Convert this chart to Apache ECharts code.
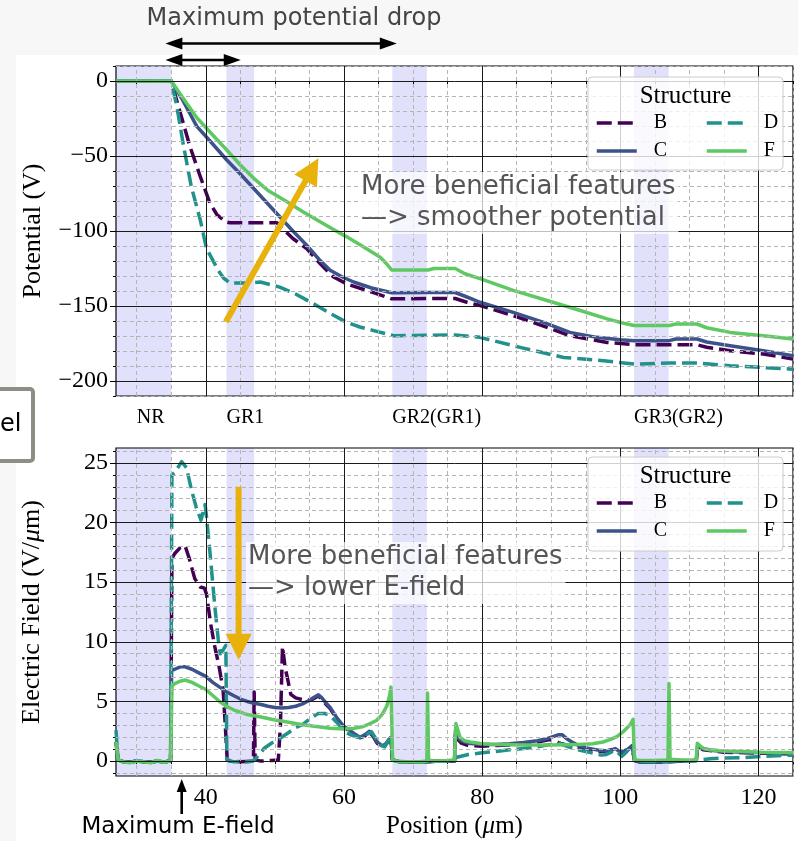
<!DOCTYPE html>
<html>
<head>
<meta charset="utf-8">
<script src="https://cdn.jsdelivr.net/npm/echarts@6/dist/echarts.min.js"></script>
<style>
  html, body { margin: 0; padding: 0; background: #f7f7f7; }
  #sheet { position: absolute; left: 16px; top: 55px; right: 0; bottom: 0; background: #ffffff; }
  #chart { position: absolute; left: 0; top: 0; width: 798px; height: 841px; }
</style>
</head>
<body>
<div id="sheet"></div>
<div id="chart"></div>
<script>
// ---------- axes ----------
const xMin = 27, xMax = 125;
const potMin = -210, potMax = 10;
const fieldMin = -1.25, fieldMax = 26.25;

const majorXTicks = [40, 60, 80, 100, 120];
const minorXTicks = [30, 35, 45, 50, 55, 65, 70, 75, 85, 90, 95, 105, 110, 115, 125];
const potTicks = [0, -50, -100, -150, -200];
const potMinorTicks = [10, -10, -20, -30, -40, -60, -70, -80, -90, -110, -120, -130, -140,
  -160, -170, -180, -190, -210];
const fieldTicks = [0, 5, 10, 15, 20, 25];
const fieldMinorTicks = [-1, 1, 2, 3, 4, 6, 7, 8, 9, 11, 12, 13, 14, 16, 17, 18, 19, 21, 22, 23, 24, 26];

// ---------- guard-ring regions ----------
const bandStarts = [27, 43, 67, 102];
const bandEnds = [35, 47, 72, 107];
const bandLabels = ['NR', 'GR1', 'GR2(GR1)', 'GR3(GR2)'];
const bandLabelAt = [30, 43, 67, 102];

// ---------- structures ----------
const structures = ['B', 'C', 'D', 'F'];
const structureColors = ['#440154', '#3b528b', '#21918c', '#5ec962'];
const structureDashed = [true, false, true, false];

// ---------- potential (V) vs position (um) ----------
const potentialB = [[27,0],[35,0],[36.3,-21.2],[37.7,-43.6],[39.2,-63.7],[40.6,-81.5],[41.6,-89],[42.8,-93.8],
  [43.5,-94.5],[50.3,-94.5],[51.5,-100],[52.6,-105],[54.6,-111.7],[56.5,-121.5],[58.5,-130.7],[60.5,-135.5],
  [63.3,-139.6],[66.9,-145.2],[72.2,-145],[76.1,-145],[77.8,-147.5],[79.7,-149.7],[84.5,-156.4],[89.4,-164.2],
  [92.7,-169.8],[98.1,-174.3],[102,-175.8],[107.1,-175.8],[111.1,-175.8],[112.5,-177.5],[115.9,-179.8],
  [120.7,-182],[125,-185.4]];
const potentialC = [[27,0],[35,0],[36.5,-11.5],[38.7,-30.2],[41,-42],[43,-52.5],[45,-62],[46.9,-71.5],[48.8,-81],
  [50.7,-90.5],[52.6,-100],[54.6,-109.5],[56.4,-119],[58,-126.2],[59.7,-130.5],[61.4,-134],[64,-138],[66.9,-141.2],
  [72.2,-141],[76.1,-141],[77.8,-144],[79.7,-147.5],[84.5,-154.2],[88.9,-160.9],[92.7,-167.6],[96.6,-170.9],
  [100,-172.5],[102,-173.1],[107.1,-173.1],[108,-172],[111.1,-172],[112.5,-174],[115.9,-176.5],[120.7,-179.8],
  [125,-183.2]];
const potentialD = [[27,0],[35,0],[35.8,-16.8],[36.7,-41.3],[37.9,-70.4],[39.2,-92.7],[40.1,-111.7],[41.8,-126.2],
  [42.6,-131.5],[43.5,-134.7],[46,-134.7],[47.9,-134],[50.7,-137.4],[53,-142],[55.6,-148.5],[58,-155],
  [60.4,-160.9],[62.3,-164],[64.3,-166.4],[67.2,-169.8],[72,-169.5],[76.1,-169.3],[79.7,-170.9],[85.5,-177.6],
  [91.8,-184.3],[97.6,-186.5],[102,-188.7],[107.1,-188],[111.1,-188],[115.9,-189.9],[120.7,-191],[125,-192.1]];
const potentialF = [[27,0],[35,0],[36.5,-10],[38.7,-24.5],[41,-36],[43,-45.8],[45,-56],[46.9,-64.7],[49,-73],
  [51.7,-80.4],[54,-87],[56.1,-92.7],[58.3,-98.5],[60.4,-103.9],[62.8,-110.5],[65.2,-117.3],[66.2,-122],
  [66.9,-126],[72.2,-126],[73,-125],[76.1,-125],[77.5,-128.5],[79.7,-131.8],[84.5,-139.6],[89.4,-146.3],
  [94.2,-153],[98.1,-158.6],[100.5,-161.5],[102,-163],[107.1,-163],[108,-162],[111.1,-162],[112.5,-164.5],
  [115.9,-167.6],[120.7,-169.8],[125,-172]];

// ---------- electric field (V/um) vs position (um) ----------
const fieldB = [[27,1.6],[27.3,0.1],[28,-0.05],[29,-0.1],[30,0],[31,-0.05],[32,-0.1],[33,0],[34,-0.1],[34.9,0.05],
  [35.1,17.0],[35.5,17.4],[36.3,17.9],[37,18.05],[37.6,17.0],[38.4,15.3],[39.2,14.6],[39.8,14.5],[40.1,14.0],
  [40.7,11.5],[41.3,9.6],[41.9,8.0],[42.5,6.0],[42.8,3.2],[43.1,0.1],[43.5,0],[45,-0.05],[46.9,0],[47.0,5.8],
  [47.15,0.1],[48,0],[49.5,0.05],[50.5,0.1],[50.8,3],[51.1,9.6],[51.5,7.8],[51.8,7.0],[52.3,5.6],[53,5.3],
  [54,5.15],[55.2,5.1],[56.3,5.45],[56.8,5.2],[57.5,4.7],[58,4.4],[59,3.5],[59.9,2.9],[60.8,2.5],[61.5,2.2],
  [62.3,1.95],[63,2.1],[63.7,2.4],[64.2,2.1],[64.8,1.5],[65.5,1.25],[66,1.35],[66.5,1.7],[66.8,1.9],[67,0.1],
  [68,-0.05],[70,-0.1],[72,-0.05],[74,0],[76,0],[76.15,2.4],[76.5,1.8],[77,1.5],[78,1.3],[80,1.25],[82,1.3],
  [84,1.35],[86,1.45],[88,1.6],[89.8,1.8],[90.5,1.7],[91.5,1.45],[93,1.25],[94.5,1.05],[96,0.9],[97.5,0.8],
  [99,0.95],[100,0.7],[101,0.9],[101.7,1.2],[102.05,0.05],[103,-0.1],[105,-0.1],[107,-0.05],[109,0],[111,0.05],
  [111.2,1.2],[112,0.95],[115,0.75],[118,0.7],[121,0.65],[125,0.6]];
const fieldC = [[27,1.6],[27.3,0.1],[28,-0.05],[29,-0.1],[30,0],[31,-0.05],[32,-0.1],[33,0],[34,-0.1],[34.9,0.05],
  [35.05,7.6],[35.5,7.7],[36.3,7.9],[37,7.9],[38,7.7],[39,7.4],[40,7.1],[41,6.6],[42,6.2],[43,5.8],[44,5.5],
  [45,5.2],[46,5.0],[47,4.85],[48,4.75],[49,4.6],[50,4.5],[51,4.45],[52,4.5],[53,4.6],[54,4.8],[55,5.1],
  [55.8,5.4],[56.3,5.55],[56.8,5.3],[57.5,4.8],[58,4.5],[59,3.6],[59.9,2.95],[60.8,2.6],[61.5,2.3],[62.3,2.0],
  [63,2.2],[63.7,2.5],[64.2,2.2],[64.8,1.6],[65.5,1.3],[66,1.4],[66.5,1.8],[66.8,2.0],[67,0.2],[67.3,0.05],
  [68,-0.05],[70,-0.1],[72,-0.05],[74,0],[76,0],[76.15,2.6],[76.5,2.0],[77,1.7],[78,1.5],[80,1.4],[82,1.4],
  [84,1.45],[86,1.55],[88,1.7],[89.5,1.9],[91,2.2],[91.6,2.2],[92.2,1.9],[93,1.6],[94,1.3],[95.5,1.05],[97,0.9],
  [98,0.85],[99,1.0],[99.3,1.05],[100,0.75],[101,0.95],[101.7,1.3],[102.05,0.1],[103,-0.1],[105,-0.1],
  [107,-0.05],[109,0],[111,0.05],[111.2,1.3],[112,1.05],[113,0.9],[115,0.8],[118,0.75],[121,0.7],[125,0.65]];
const fieldD = [[27,2.6],[27.3,0.1],[28,-0.05],[29,-0.1],[30,0],[31,-0.05],[32,-0.1],[33,0],[34,-0.1],[34.9,0.05],
  [35.1,24.0],[35.5,24.2],[36.5,25.1],[37.2,24.6],[37.9,22.8],[38.6,21.3],[39.3,20.2],[39.9,21.5],[40.1,20.5],
  [40.6,17.5],[41.3,13],[41.8,10.2],[42.1,9.0],[42.6,9.4],[42.9,9.7],[43.05,0.2],[43.5,0],[44,-0.05],[45,-0.05],
  [46,-0.05],[46.8,0],[47.2,0.2],[47.8,0.6],[48.5,1.1],[49.5,1.5],[50.7,1.9],[52,2.4],[53,2.8],[54.1,3.1],
  [55.2,3.6],[56.3,4.0],[57.2,4.0],[58,3.8],[59.2,3.1],[60,2.5],[61,2.2],[62,2.0],[62.8,2.0],[63.5,2.3],
  [64,2.45],[64.7,1.8],[65.4,1.3],[65.9,1.2],[66.5,1.8],[66.8,2.1],[67,0.3],[67.3,0.05],[68,-0.05],[70,-0.1],
  [72,-0.05],[74,0],[75.8,0],[76.2,0.3],[78,0.55],[80,0.7],[82,0.8],[84,0.95],[86,1.05],[88,1.2],[90,1.4],
  [91.2,1.5],[92,1.3],[93.5,1.0],[95,0.8],[96.5,0.6],[97.3,0.5],[98,0.55],[99.2,0.9],[99.7,0.7],[100.2,0.4],
  [100.8,0.7],[101.5,1.2],[101.9,1.3],[102.1,0.1],[103,0],[105,-0.05],[107,0],[109,0],[111,0.05],[111.5,0.1],
  [113,0.2],[115,0.25],[118,0.3],[121,0.4],[125,0.5]];
const fieldF = [[27,1.6],[27.3,0.1],[28,-0.05],[29,-0.15],[30,0],[31,-0.05],[32,-0.15],[33,0.05],[34,-0.1],
  [34.9,0.05],[35.1,6.3],[35.5,6.5],[36.3,6.7],[37,6.8],[38,6.6],[39,6.3],[40,6.0],[41,5.5],[42,5.0],[43,4.6],
  [44,4.3],[45,4.1],[46,3.9],[48,3.7],[50,3.45],[52,3.25],[54,3.05],[56,2.9],[58,2.75],[60,2.7],[61.5,2.75],
  [62.8,2.9],[64,3.2],[64.7,3.4],[65.5,3.9],[66.2,4.6],[66.6,5.5],[66.8,6.2],[67.05,0.1],[67.5,0],[69,-0.05],
  [71,-0.05],[72,0],[72.1,5.7],[72.25,0.1],[73,0],[75,0.05],[76,0.1],[76.2,3.15],[76.8,2.0],[77.5,1.7],
  [78.3,1.6],[80,1.45],[82,1.4],[86,1.35],[90,1.35],[94,1.4],[96,1.45],[97.5,1.6],[98.5,1.8],[99.5,2.05],
  [100.3,2.4],[101,2.8],[101.5,3.1],[101.85,3.5],[102.05,0.1],[103,0.05],[105,0.05],[106.9,0.1],[107.05,6.5],
  [107.2,0.15],[109,0.1],[111,0.1],[111.15,1.5],[112,1.05],[113,0.95],[115,0.85],[118,0.8],[120,0.75],
  [125,0.72]];

const potentialSets = [potentialB, potentialC, potentialD, potentialF];
const fieldSets = [fieldB, fieldC, fieldD, fieldF];

// ---------- annotations (data units) ----------
const potentialArrow = [[42.9, -160.5], [56.3, -51.5]];
const fieldArrow = [[44.75, 23.0], [44.75, 8.5]];
const dropSpanLong = [34.15, 67.65];
const dropSpanShort = [34.15, 45.06];
const maxFieldAt = 36.51;

// ---------- styling ----------
const SERIF = '"Liberation Serif", "Times New Roman", serif';
const SANS = '"DejaVu Sans", sans-serif';
const GRID_L = 116, GRID_W = 677;
const GRIDS = [{ top: 66, height: 330 }, { top: 448, height: 328 }];
const LINE_W = 3.5;
const DASH = [15, 6];

const minus = v => (v < 0 ? '\u2212' + Math.abs(v) : String(v));

function tickAxis(kind, gridIndex, min, max, ticks, len, labelOpts, extra) {
  return Object.assign({
    type: 'value', gridIndex, min, max,
    position: kind === 'x' ? 'bottom' : 'left', offset: 0,
    axisLine: { show: false },
    axisTick: { show: true, inside: false, length: len, customValues: ticks,
      lineStyle: { color: '#000', width: 1 } },
    splitLine: { show: false }, minorTick: { show: false }, minorSplitLine: { show: false },
    axisLabel: labelOpts || { show: false },
    axisPointer: { show: false }
  }, extra || {});
}

const xAxes = [
  tickAxis('x', 0, xMin, xMax, majorXTicks, 6, {
    show: true, customValues: bandLabelAt, align: 'left', margin: 12,
    fontFamily: SERIF, fontSize: 20, color: '#000',
    formatter: v => bandLabels[bandLabelAt.indexOf(v)] || ''
  }),
  tickAxis('x', 0, xMin, xMax, minorXTicks, 3, null),
  tickAxis('x', 1, xMin, xMax, majorXTicks, 6, {
    show: true, customValues: majorXTicks, margin: 10,
    fontFamily: SERIF, fontSize: 24, color: '#000'
  }, {
    name: 'Position ({it|\u03bc}m)', nameLocation: 'middle', nameGap: 38,
    nameTextStyle: { fontFamily: SERIF, fontSize: 25, color: '#000',
      rich: { it: { fontFamily: SERIF, fontSize: 25, fontStyle: 'italic', color: '#000' } } }
  }),
  tickAxis('x', 1, xMin, xMax, minorXTicks, 3, null)
];

const yAxes = [
  tickAxis('y', 0, potMin, potMax, potTicks, 6, {
    show: true, customValues: potTicks, margin: 8,
    fontFamily: SERIF, fontSize: 24, color: '#000', formatter: minus
  }, {
    name: 'Potential (V)', nameLocation: 'middle', nameGap: 70,
    nameTextStyle: { fontFamily: SERIF, fontSize: 26, color: '#000' }
  }),
  tickAxis('y', 0, potMin, potMax, potMinorTicks, 3, null),
  tickAxis('y', 1, fieldMin, fieldMax, fieldTicks, 6, {
    show: true, customValues: fieldTicks, margin: 8,
    fontFamily: SERIF, fontSize: 24, color: '#000'
  }, {
    name: 'Electric Field (V/{it|\u03bc}m)', nameLocation: 'middle', nameGap: 71,
    nameTextStyle: { fontFamily: SERIF, fontSize: 26, color: '#000',
      rich: { it: { fontFamily: SERIF, fontSize: 26, fontStyle: 'italic', color: '#000' } } }
  }),
  tickAxis('y', 1, fieldMin, fieldMax, fieldMinorTicks, 3, null)
];

// grid lines and shaded regions for one panel
const minorLine = { color: '#b5b5b5', width: 1, type: [4, 3] };
const majorLine = { color: '#1a1a1a', width: 1, type: 'solid' };
function backdrop(axisIndex, yMajor, yMinor) {
  const lines = [];
  minorXTicks.forEach(v => lines.push({ xAxis: v, lineStyle: minorLine }));
  yMinor.forEach(v => lines.push({ yAxis: v, lineStyle: minorLine }));
  majorXTicks.forEach(v => lines.push({ xAxis: v, lineStyle: majorLine }));
  yMajor.forEach(v => lines.push({ yAxis: v, lineStyle: majorLine }));
  return {
    type: 'line', name: '_grid' + axisIndex, xAxisIndex: axisIndex, yAxisIndex: axisIndex,
    data: [], z: 1, silent: true, animation: false,
    markArea: {
      silent: true, itemStyle: { color: 'rgba(40,40,225,0.14)', borderWidth: 0 },
      label: { show: false },
      data: bandStarts.map((s, i) => [{ xAxis: s }, { xAxis: bandEnds[i] }])
    },
    markLine: { silent: true, symbol: ['none', 'none'], label: { show: false },
      animation: false, data: lines }
  };
}

function curves(sets, axisIndex) {
  return sets.map((d, i) => ({
    name: structures[i], type: 'line', xAxisIndex: axisIndex, yAxisIndex: axisIndex,
    data: d, showSymbol: false, symbol: 'none', animation: false, z: 3 + i * 0.01,
    lineStyle: { color: structureColors[i], width: LINE_W,
      type: structureDashed[i] ? DASH : 'solid', cap: 'butt', join: 'round' },
    itemStyle: { color: structureColors[i] }
  }));
}

// legend: two columns (B, C | D, F) inside each panel
const legendCols = [595, 705];
function legends(rowCenters) {
  const place = { B: [0, 0], C: [0, 1], D: [1, 0], F: [1, 1] };
  return structures.map((s, i) => ({
    data: [s], left: legendCols[place[s][0]], top: rowCenters[place[s][1]] - 11,
    orient: 'horizontal', padding: 0, itemWidth: 40, itemHeight: 14, selectedMode: false, z: 8,
    itemStyle: { opacity: 0 },
    lineStyle: { color: structureColors[i], width: LINE_W,
      type: structureDashed[i] ? DASH : 'solid', cap: 'butt' },
    textStyle: { fontFamily: SERIF, fontSize: 20, color: '#000', padding: [0, 0, 0, 12] }
  }));
}

const option = {
  backgroundColor: 'transparent',
  animation: false,
  grid: GRIDS.map(g => ({ left: GRID_L, width: GRID_W, top: g.top, height: g.height,
    show: true, borderColor: '#000', borderWidth: 1.2, backgroundColor: 'transparent',
    containLabel: false })),
  xAxis: xAxes,
  yAxis: yAxes,
  legend: legends([124, 152]).concat(legends([504, 532])),
  series: [backdrop(0, potTicks, potMinorTicks), backdrop(2, fieldTicks, fieldMinorTicks)]
    .concat(curves(potentialSets, 0)).concat(curves(fieldSets, 2))
};

const chart = echarts.init(document.getElementById('chart'), null, { renderer: 'canvas' });
chart.setOption(option);

// ---------- overlay: arrows, notes, legend frames ----------
function arrow(p0, p1, o) {
  const dx = p1[0] - p0[0], dy = p1[1] - p0[1];
  const len = Math.hypot(dx, dy), ux = dx / len, uy = dy / len, nx = -uy, ny = ux;
  const inset = o.headLen * 0.8;
  const s0 = o.both ? [p0[0] + ux * inset, p0[1] + uy * inset] : p0;
  const s1 = [p1[0] - ux * inset, p1[1] - uy * inset];
  const head = (tip, ax, ay) => {
    const bx = tip[0] - ax * o.headLen, by = tip[1] - ay * o.headLen;
    return { type: 'polygon', silent: true, z: o.z,
      shape: { points: [[tip[0], tip[1]], [bx + nx * o.headW / 2, by + ny * o.headW / 2],
        [bx - nx * o.headW / 2, by - ny * o.headW / 2]] },
      style: { fill: o.color } };
  };
  const els = [{ type: 'line', silent: true, z: o.z,
    shape: { x1: s0[0], y1: s0[1], x2: s1[0], y2: s1[1] },
    style: { stroke: o.color, lineWidth: o.width } }, head(p1, ux, uy)];
  if (o.both) els.push(head(p0, -ux, -uy));
  return els;
}

const toTop = p => chart.convertToPixel({ xAxisIndex: 0, yAxisIndex: 0 }, p);
const toBottom = p => chart.convertToPixel({ xAxisIndex: 2, yAxisIndex: 2 }, p);
const xTop = v => chart.convertToPixel({ xAxisIndex: 0 }, v);
const xBottom = v => chart.convertToPixel({ xAxisIndex: 2 }, v);

const ORANGE = '#e8b10c';
const els = [];

// legend frames and titles
[[GRIDS[0].top + 11, 93], [GRIDS[1].top + 9, 94]].forEach(([top, h]) => {
  els.push({ type: 'rect', silent: true, z: 6,
    shape: { x: 588, y: top, width: 195, height: h, r: 4 },
    style: { fill: 'rgba(255,255,255,0.8)', stroke: '#cccccc', lineWidth: 1 } });
  els.push({ type: 'text', silent: true, z: 7, x: 685.5, y: top + 19,
    style: { text: 'Structure', font: '25px ' + SERIF, fill: '#000',
      align: 'center', verticalAlign: 'middle' } });
});

// notes inside the panels
els.push({ type: 'text', silent: true, z: 6, x: 359, y: 172,
  style: { text: 'More beneficial features\n\u2014> smoother potential', font: '26px ' + SANS,
    fill: '#555', lineHeight: 31, backgroundColor: 'rgba(255,255,255,0.72)', padding: [0, 3, 0, 2] } });
els.push({ type: 'text', silent: true, z: 6, x: 246, y: 542,
  style: { text: 'More beneficial features\n\u2014> lower E-field', font: '26px ' + SANS,
    fill: '#555', lineHeight: 31, backgroundColor: 'rgba(255,255,255,0.72)', padding: [0, 3, 0, 2] } });

// trend arrows
arrow(toTop(potentialArrow[0]), toTop(potentialArrow[1]),
  { color: ORANGE, width: 6, headLen: 26, headW: 26, z: 6 }).forEach(e => els.push(e));
arrow(toBottom(fieldArrow[0]), toBottom(fieldArrow[1]),
  { color: ORANGE, width: 6, headLen: 26, headW: 26, z: 6 }).forEach(e => els.push(e));

// potential drop spans above the top panel
els.push({ type: 'text', silent: true, z: 6, x: 294, y: 19,
  style: { text: 'Maximum potential drop', font: '24px ' + SANS, fill: '#444',
    align: 'center', verticalAlign: 'middle' } });
arrow([xTop(dropSpanLong[0]), 43.5], [xTop(dropSpanLong[1]), 43.5],
  { color: '#000', width: 2.6, headLen: 17, headW: 12, both: true, z: 6 }).forEach(e => els.push(e));
arrow([xTop(dropSpanShort[0]), 60], [xTop(dropSpanShort[1]), 60],
  { color: '#000', width: 2.6, headLen: 17, headW: 12, both: true, z: 6 }).forEach(e => els.push(e));

// maximum field marker below the bottom panel
arrow([xBottom(maxFieldAt), 814], [xBottom(maxFieldAt), 779],
  { color: '#000', width: 2.6, headLen: 13, headW: 10, z: 6 }).forEach(e => els.push(e));
els.push({ type: 'text', silent: true, z: 6, x: 178, y: 827,
  style: { text: 'Maximum E-field', font: '23px ' + SANS, fill: '#000',
    align: 'center', verticalAlign: 'middle' } });

// neighbouring panel frame at the left edge
els.push({ type: 'rect', silent: true, z: 6,
  shape: { x: -10, y: 389, width: 43, height: 72, r: 3 },
  style: { fill: '#ffffff', stroke: '#8d8f84', lineWidth: 4 } });
els.push({ type: 'text', silent: true, z: 7, x: 0, y: 425,
  style: { text: 'el', font: '24px ' + SANS, fill: '#000', verticalAlign: 'middle' } });

chart.setOption({ graphic: { elements: els } });
</script>
</body>
</html>
